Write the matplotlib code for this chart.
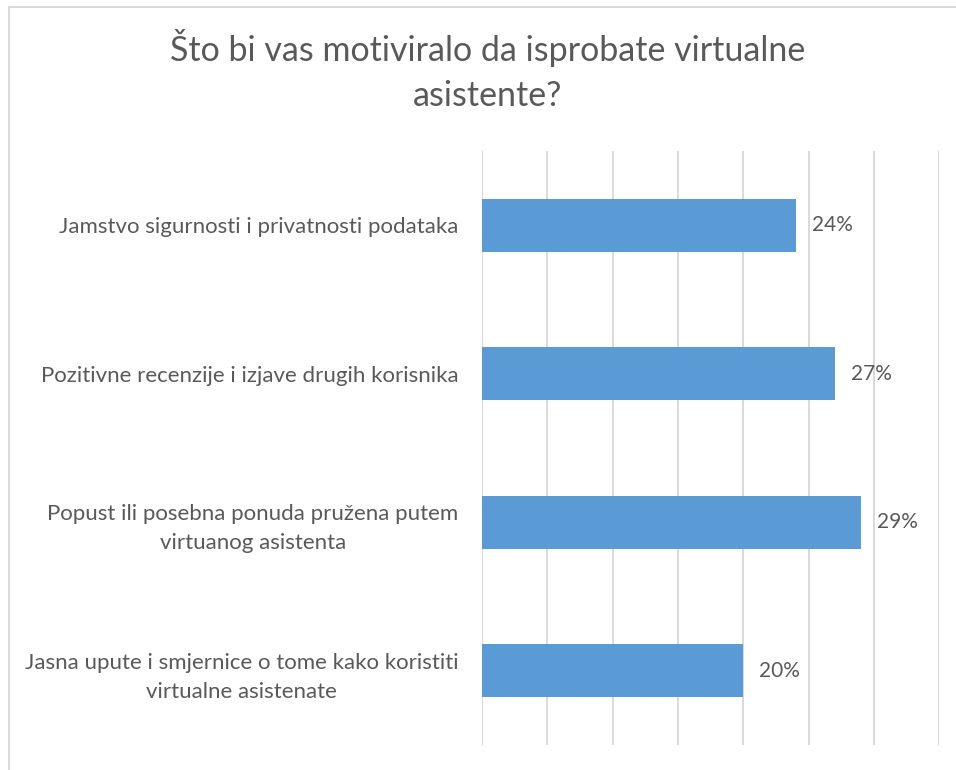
import matplotlib
matplotlib.use('Agg')
import matplotlib.pyplot as plt
from matplotlib.lines import Line2D

# podaci iz ankete
kategorije = [
    'Jamstvo sigurnosti i privatnosti podataka',
    'Pozitivne recenzije i izjave drugih korisnika',
    'Popust ili posebna ponuda pružena putem\nvirtuanog asistenta',
    'Jasna upute i smjernice o tome kako koristiti\nvirtualne asistenate',
]
postotci = [24, 27, 29, 20]
naslov = 'Što bi vas motiviralo da isprobate virtualne\nasistente?'

PLAVA = '#5B9BD5'
SIVA_TEKST = '#595959'
SIVA_MREZA = '#D9D9D9'

plt.rcParams['font.family'] = ['Lato', 'DejaVu Sans']

fig = plt.figure(figsize=(9.56, 7.70), dpi=100)
ax = fig.add_axes([0.5042, 0.0325, 0.4783, 0.7714])

y = list(range(len(kategorije)))
ax.barh(y, postotci, height=0.354, color=PLAVA, zorder=3)

for yi, v in zip(y, postotci):
    ax.annotate(f'{v}%', xy=(v, yi), xytext=(11.5, 0), textcoords='offset points',
                ha='left', va='center', fontsize=15, color=SIVA_TEKST)

ax.set_xlim(0, 35)
ax.set_ylim(len(kategorije) - 0.5, -0.5)
ax.set_xticks(range(0, 36, 5))
ax.set_xticklabels([])
ax.set_yticks(y)
ax.set_yticklabels(kategorije, fontsize=16, color=SIVA_TEKST)
for lbl in ax.get_yticklabels():
    lbl.set_multialignment('center')
    lbl.set_linespacing(1.55)
ax.tick_params(axis='both', length=0)
ax.tick_params(axis='y', pad=17)
ax.grid(axis='x', color=SIVA_MREZA, linewidth=1.4, zorder=0)
for s in ax.spines.values():
    s.set_visible(False)

fig.text(0.510, 0.908, naslov, ha='center', va='center', fontsize=24.5,
         color=SIVA_TEKST, linespacing=1.5)

# okvir grafikona
fig.add_artist(Line2D([9 / 956, 1], [1 - 6.5 / 770] * 2, color=SIVA_MREZA,
                      linewidth=1.4, transform=fig.transFigure))
fig.add_artist(Line2D([9 / 956] * 2, [0, 1 - 6.5 / 770], color=SIVA_MREZA,
                      linewidth=1.4, transform=fig.transFigure))

fig.savefig('out.png', dpi=100, facecolor='white')
